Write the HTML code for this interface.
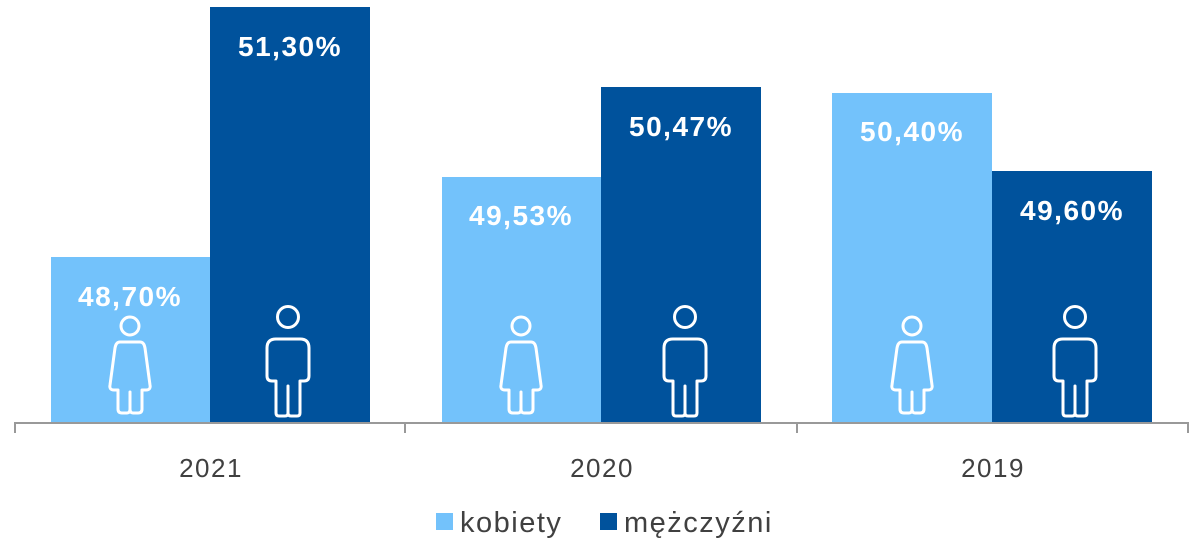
<!DOCTYPE html>
<html><head><meta charset="utf-8"><style>
body{margin:0;background:#fff;width:1203px;height:544px;overflow:hidden}
svg{display:block}
</style></head><body>
<svg width="1203" height="544" xmlns="http://www.w3.org/2000/svg" font-family="Liberation Sans, sans-serif">
<defs>
<g id="man" fill="none" stroke="#fff" stroke-width="3" stroke-linejoin="round">
<circle cx="0" cy="317" r="10.5"/>
<path d="M0 386 V413 Q0 416 3 416 H9 Q12 416 12 413 V381 H16 Q21 381 21 376 V348 Q21 339 12 339 H-12 Q-21 339 -21 348 V376 Q-21 381 -16 381 H-12 V413 Q-12 416 -9 416 H-3 Q0 416 0 413 Z"/>
</g>
<g id="woman" fill="none" stroke="#fff" stroke-width="3" stroke-linejoin="round">
<circle cx="0" cy="326" r="9"/>
<path d="M0 392 V409 Q0 413 3 413 H8 Q12 413 12 409 V390 H16 Q21 390 20 385 L15 348 Q14 342 10 342 H-10 Q-14 342 -15 348 L-20 385 Q-21 390 -16 390 H-12 V409 Q-12 413 -8 413 H-3 Q0 413 0 409 Z"/>
</g>
</defs>
<g fill="#73c2fb">
<rect x="51" y="257" width="159" height="165"/>
<rect x="442" y="177" width="159" height="245"/>
<rect x="832" y="93" width="160" height="329"/>
</g>
<g fill="#00529c">
<rect x="210" y="7" width="160" height="415"/>
<rect x="601" y="87" width="160" height="335"/>
<rect x="992" y="171" width="160" height="251"/>
</g>
<use href="#woman" x="130"/><use href="#man" x="288"/>
<use href="#woman" x="521"/><use href="#man" x="685"/>
<use href="#woman" x="912"/><use href="#man" x="1075"/>
<g fill="#fff" font-weight="bold" font-size="28" letter-spacing="1.5" text-anchor="middle">
<text x="130" y="306">48,70%</text>
<text x="290" y="56">51,30%</text>
<text x="521" y="225">49,53%</text>
<text x="681" y="136">50,47%</text>
<text x="912" y="141">50,40%</text>
<text x="1072" y="220">49,60%</text>
</g>
<g stroke="#999" stroke-width="2">
<line x1="14" y1="423" x2="1189" y2="423"/>
<line x1="15" y1="423" x2="15" y2="433"/>
<line x1="405" y1="423" x2="405" y2="433"/>
<line x1="797" y1="423" x2="797" y2="433"/>
<line x1="1188" y1="423" x2="1188" y2="433"/>
</g>
<g fill="#404040" font-size="26" letter-spacing="1.5" text-anchor="middle">
<text x="211" y="477">2021</text>
<text x="602" y="477">2020</text>
<text x="993" y="477">2019</text>
</g>
<rect x="436" y="513" width="17" height="17" fill="#73c2fb"/>
<text x="460" y="532" font-size="29" letter-spacing="1.5" fill="#404040">kobiety</text>
<rect x="600" y="513" width="17" height="17" fill="#00529c"/>
<text x="624" y="532" font-size="29" letter-spacing="1.5" fill="#404040">mężczyźni</text>
</svg>
</body></html>
